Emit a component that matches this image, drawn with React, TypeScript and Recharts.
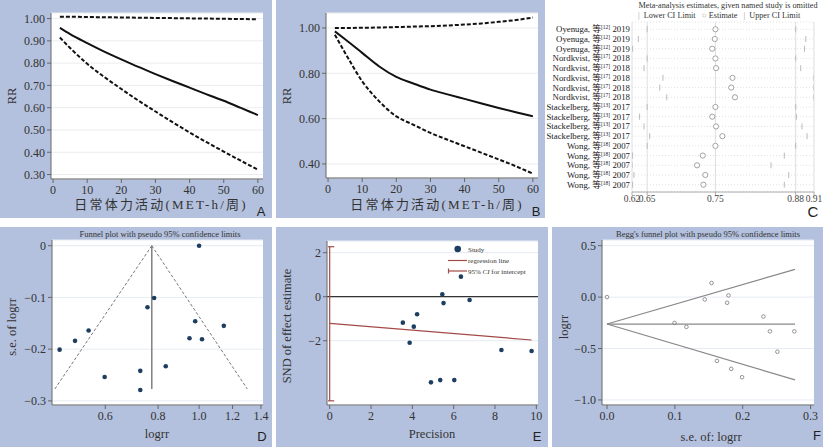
import React from "react";
import {
  CartesianGrid,
  Line,
  LineChart,
  ReferenceLine,
  Scatter,
  ScatterChart,
  XAxis,
  YAxis,
} from "recharts";

// ---------- A / B: 日常体力活动 dose-response ----------
const activityX = [2, 5, 10, 15, 20, 25, 30, 35, 40, 45, 50, 55, 60];
const rrA = [0.958, 0.93, 0.89, 0.852, 0.817, 0.783, 0.751, 0.72, 0.69, 0.66, 0.631, 0.599, 0.567];
const lowA = [0.915, 0.868, 0.797, 0.738, 0.684, 0.632, 0.583, 0.535, 0.489, 0.445, 0.403, 0.362, 0.322];
const highA = [1.008, 1.008, 1.007, 1.006, 1.005, 1.004, 1.003, 1.002, 1.001, 1.0, 0.999, 0.998, 0.997];
const rrB = [0.985, 0.95, 0.89, 0.83, 0.784, 0.755, 0.728, 0.707, 0.687, 0.667, 0.647, 0.628, 0.61];
const lowB = [0.97, 0.89, 0.765, 0.676, 0.61, 0.573, 0.537, 0.507, 0.478, 0.449, 0.42, 0.39, 0.357];
const highB = [1.0, 1.0, 1.001, 1.002, 1.004, 1.006, 1.008, 1.011, 1.015, 1.02, 1.027, 1.035, 1.046];
const activityTicks = [0, 10, 20, 30, 40, 50, 60];
const rrTicksA = [0.3, 0.4, 0.5, 0.6, 0.7, 0.8, 0.9, 1.0];
const rrTicksB = [0.4, 0.6, 0.8, 1.0];

// ---------- C: leave-one-out ----------
const studyNames = [
  "Oyenuga", "Oyenuga", "Oyenuga",
  "Nordkvist", "Nordkvist", "Nordkvist", "Nordkvist", "Nordkvist",
  "Stackelberg", "Stackelberg", "Stackelberg", "Stackelberg",
  "Wong", "Wong", "Wong", "Wong", "Wong",
];
const studyRefs = ["12", "12", "12", "17", "17", "17", "17", "17", "13", "13", "13", "13", "18", "18", "18", "18", "18"];
const studyYears = [2019, 2019, 2019, 2018, 2018, 2018, 2018, 2018, 2017, 2017, 2017, 2017, 2007, 2007, 2007, 2007, 2007];
const looEstimate = [0.754, 0.753, 0.749, 0.754, 0.755, 0.781, 0.779, 0.785, 0.754, 0.749, 0.755, 0.765, 0.754, 0.734, 0.725, 0.738, 0.735];
const looLower = [0.646, 0.632, 0.623, 0.646, 0.641, 0.671, 0.666, 0.677, 0.646, 0.634, 0.641, 0.65, 0.646, 0.623, 0.622, 0.625, 0.623];
const looUpper = [0.881, 0.897, 0.895, 0.881, 0.889, 0.91, 0.91, 0.91, 0.881, 0.882, 0.891, 0.899, 0.881, 0.863, 0.842, 0.87, 0.863];
const looTicks = [0.622, 0.646, 0.754, 0.881, 0.91];

// ---------- D: funnel plot ----------
const funnelRR = [0.468, 0.509, 0.548, 0.598, 0.726, 0.726, 0.755, 0.783, 0.834, 0.949, 0.979, 1.0, 1.016, 1.144];
const funnelSE = [-0.201, -0.184, -0.164, -0.254, -0.242, -0.279, -0.119, -0.101, -0.233, -0.179, -0.146, 0, -0.181, -0.155];
const funnelCentre = 0.773;
const funnelBaseRR = [0.456, 1.3];
const funnelBaseSE = -0.277;
const funnelTicksX = [0.6, 0.8, 1.0, 1.2, 1.4];
const funnelTicksY = [-0.3, -0.2, -0.1, 0];

// ---------- E: Egger / Galbraith ----------
const precision = [3.54, 3.87, 4.07, 4.23, 4.9, 5.35, 5.45, 5.51, 6.03, 6.35, 6.77, 8.31, 9.77];
const sndEffect = [-1.18, -2.09, -1.36, -0.8, -3.89, -3.79, 0.11, -0.29, -3.79, 0.91, -0.15, -2.42, -2.47];
const eggerIntercept = -1.21;
const eggerEnd = [9.77, -1.967];
const interceptCI = [2.27, -4.73];
const precisionTicks = [0, 2, 4, 6, 8, 10];
const sndTicks = [-2, 0, 2];

// ---------- F: Begg ----------
const beggSE = [0, 0.0995, 0.117, 0.144, 0.154, 0.162, 0.177, 0.179, 0.183, 0.199, 0.2305, 0.24, 0.251, 0.276];
const beggLogrr = [0, -0.251, -0.29, -0.023, 0.137, -0.62, -0.055, 0.016, -0.698, -0.779, -0.189, -0.333, -0.531, -0.333];
const beggPooled = -0.262;
const beggMaxSE = 0.277;
const beggLimits = [0.27, -0.805];
const beggTicksX = [0, 0.1, 0.2, 0.3];
const beggTicksY = [-1, -0.5, 0, 0.5];

// Noto Sans CJK carries Latin glyphs too, so keep serif families ahead of it
const SERIF = "'Times New Roman', 'Liberation Serif', 'DejaVu Serif', serif, 'Noto Sans CJK SC'";
const SANS = "'Liberation Sans', Arial, sans-serif";
const BG = "#b3c1de";
const AXIS = "#666";
const GRID = "#ececec";
const NAVY = "#1d3e60";
const RED = "#a34a48";

const tick = { fontFamily: SERIF, fontSize: 12, fill: "#333" };
const minus = (s: string) => s.replace("-", "\u2212");

function Txt({ x, y, size = 12, rotate = 0, family = SERIF, color = "#333", children, spacing = 0 }: any) {
  return (
    <div
      style={{
        position: "absolute",
        left: x,
        top: y,
        transform: `translate(-50%, -50%) rotate(${rotate}deg)`,
        fontFamily: family,
        fontSize: size,
        color,
        whiteSpace: "nowrap",
        lineHeight: 1,
        letterSpacing: spacing,
      }}
    >
      {children}
    </div>
  );
}

function Box({ x, y, w, h, bg = BG, children }: any) {
  return <div style={{ position: "absolute", left: x, top: y, width: w, height: h, background: bg }}>{children}</div>;
}

function DoseChart({ rr, lo, hi, yTicks, domain, margin }: any) {
  const data = activityX.map((x, i) => ({ x, rr: rr[i], lo: lo[i], hi: hi[i] }));
  return (
    <LineChart width={272} height={218} data={data} margin={margin}>
      <CartesianGrid vertical={false} stroke={GRID} fill="#fff" />
      <XAxis type="number" dataKey="x" domain={[-0.6, 61.5]} ticks={activityTicks} interval={0} height={25}
        tick={tick} tickSize={4} axisLine={{ stroke: AXIS }} tickLine={{ stroke: AXIS }} allowDataOverflow />
      <YAxis type="number" domain={domain} ticks={yTicks} interval={0} width={40} tickFormatter={(v) => v.toFixed(2)}
        tick={tick} tickSize={4} axisLine={{ stroke: AXIS }} tickLine={{ stroke: AXIS }} allowDataOverflow />
      <Line type="monotone" dataKey="hi" stroke="#111" strokeWidth={2} strokeDasharray="4 2" dot={false} isAnimationActive={false} />
      <Line type="monotone" dataKey="rr" stroke="#111" strokeWidth={2} dot={false} isAnimationActive={false} />
      <Line type="monotone" dataKey="lo" stroke="#111" strokeWidth={2} strokeDasharray="4 2" dot={false} isAnimationActive={false} />
    </LineChart>
  );
}

function StudyTick({ x, y, payload }: any) {
  const i = payload.value - 1;
  if (i < 0 || i >= studyNames.length) return null;
  return (
    <text x={x} y={y} dy={3} textAnchor="end" fontFamily={SERIF} fontSize={8.8} fill="#222">
      {studyNames[i]}, 等
      <tspan fontSize={5.5} dy={-3}>[{studyRefs[i]}]</tspan>
      <tspan dy={3}> {studyYears[i]}</tspan>
    </text>
  );
}

function LeaveOneOut() {
  const rows = studyNames.map((_, i) => i + 1);
  const lower = rows.map((r, i) => ({ x: looLower[i], y: r }));
  const est = rows.map((r, i) => ({ x: looEstimate[i], y: r }));
  const upper = rows.map((r, i) => ({ x: looUpper[i], y: r }));
  const bar = (p: any) => <line x1={p.cx} x2={p.cx} y1={p.cy - 3} y2={p.cy + 3} stroke="#bbb" strokeWidth={1} />;
  return (
    <ScatterChart width={278} height={218} margin={{ top: 22, right: 9, bottom: 6, left: 0 }}>
      <CartesianGrid vertical={false} stroke="#e2e2e2" strokeDasharray="1 2" />
      <CartesianGrid horizontal={false} stroke="#dedede" />
      <XAxis type="number" dataKey="x" domain={[0.622, 0.91]} ticks={looTicks} interval={0} height={20}
        tickFormatter={(v) => v.toFixed(2)} tick={{ fontFamily: SERIF, fontSize: 9.5, fill: "#444" }}
        tickSize={3} tickMargin={0} axisLine={{ stroke: "#aaa" }} tickLine={{ stroke: "#aaa" }} allowDataOverflow />
      <YAxis type="number" dataKey="y" domain={[0.25, 17.75]} reversed ticks={rows} interval={0} width={87}
        tick={<StudyTick />} tickSize={0} tickMargin={2} axisLine={false} tickLine={false} allowDataOverflow />
      <Scatter data={lower} shape={bar} isAnimationActive={false} />
      <Scatter data={upper} shape={bar} isAnimationActive={false} />
      <Scatter data={est} isAnimationActive={false}
        shape={(p: any) => <circle cx={p.cx} cy={p.cy} r={2.6} fill="#fff" stroke="#999" strokeWidth={0.9} />} />
    </ScatterChart>
  );
}

function FunnelD() {
  const pts = funnelRR.map((x, i) => ({ x, y: funnelSE[i] }));
  return (
    <ScatterChart width={272} height={220} margin={{ top: 13, right: 9, bottom: 17, left: 12 }}>
      <CartesianGrid vertical={false} stroke="#e6ebf2" fill="#fff" />
      <XAxis type="number" dataKey="x" scale="log" domain={[0.449, 1.416]} ticks={funnelTicksX} interval={0} height={25}
        tickFormatter={(v) => v.toFixed(1)} tick={tick} tickSize={4} axisLine={{ stroke: AXIS }} tickLine={{ stroke: AXIS }} allowDataOverflow />
      <YAxis type="number" dataKey="y" domain={[-0.308, 0.011]} ticks={funnelTicksY} interval={0} width={40}
        tickFormatter={(v) => (v === 0 ? "0" : minus(v.toFixed(1)))} tick={tick} tickSize={4}
        axisLine={{ stroke: AXIS }} tickLine={{ stroke: AXIS }} allowDataOverflow />
      <ReferenceLine segment={[{ x: funnelBaseRR[0], y: funnelBaseSE }, { x: funnelCentre, y: 0 }]} stroke="#777" strokeDasharray="3 2" />
      <ReferenceLine segment={[{ x: funnelCentre, y: 0 }, { x: funnelBaseRR[1], y: funnelBaseSE }]} stroke="#777" strokeDasharray="3 2" />
      <ReferenceLine segment={[{ x: funnelCentre, y: 0 }, { x: funnelCentre, y: funnelBaseSE }]} stroke="#777" strokeWidth={1.4} />
      <Scatter data={pts} isAnimationActive={false}
        shape={(p: any) => <circle cx={p.cx} cy={p.cy} r={2.3} fill={NAVY} />} />
    </ScatterChart>
  );
}

function EggerE() {
  const pts = precision.map((x, i) => ({ x, y: sndEffect[i] }));
  return (
    <ScatterChart width={272} height={220} margin={{ top: 14, right: 10, bottom: 17, left: 11 }}>
      <CartesianGrid vertical={false} stroke="#e6ebf2" fill="#fff" />
      <XAxis type="number" dataKey="x" domain={[-0.13, 10.08]} ticks={precisionTicks} interval={0} height={25}
        tick={tick} tickSize={4} axisLine={{ stroke: AXIS }} tickLine={{ stroke: AXIS }} allowDataOverflow />
      <YAxis type="number" dataKey="y" domain={[-4.92, 2.53]} ticks={sndTicks} interval={0} width={40}
        tickFormatter={(v) => minus(String(v))} tick={tick} tickSize={4}
        axisLine={{ stroke: AXIS }} tickLine={{ stroke: AXIS }} allowDataOverflow />
      <ReferenceLine y={0} stroke="#333" strokeWidth={1.2} />
      <ReferenceLine segment={[{ x: 0, y: eggerIntercept }, { x: eggerEnd[0], y: eggerEnd[1] }]} stroke={RED} strokeWidth={1.2} />
      <ReferenceLine segment={[{ x: 0, y: interceptCI[0] }, { x: 0, y: interceptCI[1] }]} stroke={RED} strokeWidth={1.2} />
      <ReferenceLine segment={[{ x: -0.08, y: interceptCI[0] }, { x: 0.22, y: interceptCI[0] }]} stroke={RED} strokeWidth={1.2} />
      <ReferenceLine segment={[{ x: -0.08, y: interceptCI[1] }, { x: 0.22, y: interceptCI[1] }]} stroke={RED} strokeWidth={1.2} />
      <Scatter data={pts} isAnimationActive={false}
        shape={(p: any) => <circle cx={p.cx} cy={p.cy} r={2.3} fill={NAVY} />} />
    </ScatterChart>
  );
}

function BeggF() {
  const pts = beggSE.map((x, i) => ({ x, y: beggLogrr[i] }));
  return (
    <ScatterChart width={271} height={220} margin={{ top: 13, right: 9, bottom: 17, left: 10 }}>
      <CartesianGrid vertical={false} stroke="#e6ebf2" fill="#fff" />
      <XAxis type="number" dataKey="x" domain={[-0.0074, 0.305]} ticks={beggTicksX} interval={0} height={25}
        tickFormatter={(v) => v.toFixed(1)} tick={tick} tickSize={4} axisLine={{ stroke: AXIS }} tickLine={{ stroke: AXIS }} allowDataOverflow />
      <YAxis type="number" dataKey="y" domain={[-1.049, 0.555]} ticks={beggTicksY} interval={0} width={40}
        tickFormatter={(v) => minus(v.toFixed(1))} tick={tick} tickSize={4}
        axisLine={{ stroke: AXIS }} tickLine={{ stroke: AXIS }} allowDataOverflow />
      <ReferenceLine segment={[{ x: 0, y: beggPooled }, { x: beggMaxSE, y: beggPooled }]} stroke="#888" strokeWidth={1.2} />
      <ReferenceLine segment={[{ x: 0, y: beggPooled }, { x: beggMaxSE, y: beggLimits[0] }]} stroke="#888" strokeWidth={1.2} />
      <ReferenceLine segment={[{ x: 0, y: beggPooled }, { x: beggMaxSE, y: beggLimits[1] }]} stroke="#888" strokeWidth={1.2} />
      <Scatter data={pts} isAnimationActive={false}
        shape={(p: any) => <circle cx={p.cx} cy={p.cy} r={1.8} fill="none" stroke="#888" strokeWidth={0.9} />} />
    </ScatterChart>
  );
}

export default function App() {
  return (
    <div style={{ position: "absolute", left: 0, top: 0, width: 823, height: 447, background: "#fff", overflow: "hidden" }}>
      <Box x={0} y={0} w={272} h={218}>
        <DoseChart rr={rrA} lo={lowA} hi={highA} yTicks={rrTicksA} domain={[0.28, 1.025]}
          margin={{ top: 13, right: 9, bottom: 14, left: 11 }} />
      </Box>
      <Box x={276} y={0} w={272} h={218}>
        <DoseChart rr={rrB} lo={lowB} hi={highB} yTicks={rrTicksB} domain={[0.338, 1.066]}
          margin={{ top: 13, right: 10, bottom: 15, left: 10 }} />
      </Box>
      <Box x={545} y={0} w={278} h={218} bg="#fff">
        <LeaveOneOut />
      </Box>
      <Box x={0} y={227} w={272} h={220}>
        <FunnelD />
      </Box>
      <Box x={276} y={227} w={272} h={220}>
        <EggerE />
      </Box>
      <Box x={552} y={227} w={271} h={220}>
        <BeggF />
      </Box>

      {/* axis titles */}
      <Txt x={12} y={96} rotate={-90} size={12.5}>RR</Txt>
      <Txt x={161} y={204} size={13} spacing={2.2}>日常体力活动(MET-h/周)</Txt>
      <Txt x={287} y={96} rotate={-90} size={12.5}>RR</Txt>
      <Txt x={437} y={204} size={13} spacing={2.2}>日常体力活动(MET-h/周)</Txt>
      <Txt x={12} y={327} rotate={-90} size={12.5}>s.e. of logrr</Txt>
      <Txt x={157} y={434} size={12.5}>logrr</Txt>
      <Txt x={287} y={326} rotate={-90} size={12.5}>SND of effect estimate</Txt>
      <Txt x={432} y={434} size={12.5}>Precision</Txt>
      <Txt x={564} y={327} rotate={-90} size={12.5}>logrr</Txt>
      <Txt x={711} y={437} size={12.5}>s.e. of: logrr</Txt>

      {/* titles */}
      <Txt x={728} y={6} size={8.2}>Meta-analysis estimates, given named study is omitted</Txt>
      <div style={{ position: "absolute", left: 638, top: 11, fontFamily: SERIF, fontSize: 8.2, color: "#333", whiteSpace: "nowrap", lineHeight: "10px" }}>
        <span style={{ color: "#999" }}>|</span>&nbsp; Lower CI Limit &nbsp;&nbsp;<span style={{ color: "#999" }}>○</span> Estimate &nbsp;&nbsp;<span style={{ color: "#999" }}>|</span>&nbsp; Upper CI Limit
      </div>
      <Txt x={160} y={234} size={8.5}>Funnel plot with pseudo 95% confidence limits</Txt>
      <Txt x={708} y={234} size={8.5}>Begg's funnel plot with pseudo 95% confidence limits</Txt>

      {/* Egger legend */}
      <svg style={{ position: "absolute", left: 445, top: 243 }} width={96} height={34}>
        <circle cx={12.7} cy={6} r={3.3} fill={NAVY} />
        <text x={23} y={8.5} fontFamily={SERIF} fontSize={7} fill="#333">Study</text>
        <line x1={3} x2={22} y1={17.5} y2={17.5} stroke={RED} strokeWidth={1.2} />
        <text x={23} y={20} fontFamily={SERIF} fontSize={7} fill="#333">regression line</text>
        <line x1={3} x2={22} y1={28} y2={28} stroke={RED} strokeWidth={1.2} />
        <line x1={3.5} x2={3.5} y1={25.5} y2={30.5} stroke={RED} strokeWidth={1.2} />
        <text x={23} y={30.5} fontFamily={SERIF} fontSize={7} fill="#333">
          95% <tspan fontStyle="italic">CI</tspan> for intercept
        </text>
      </svg>

      {/* panel letters */}
      <Txt x={261} y={211} size={13} family={SANS} color="#222">A</Txt>
      <Txt x={536} y={211} size={13} family={SANS} color="#222">B</Txt>
      <Txt x={813} y={211} size={15} family={SANS} color="#222">C</Txt>
      <Txt x={262} y={436} size={13} family={SANS} color="#222">D</Txt>
      <Txt x={537} y={436} size={13} family={SANS} color="#222">E</Txt>
      <Txt x={817} y={435} size={13} family={SANS} color="#222">F</Txt>
    </div>
  );
}
